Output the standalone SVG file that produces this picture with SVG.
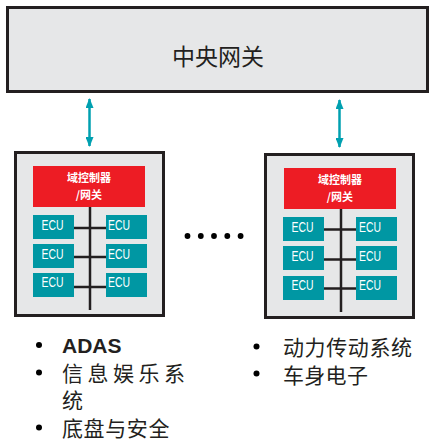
<svg xmlns="http://www.w3.org/2000/svg" width="436" height="448" viewBox="0 0 436 448">
<defs>
<style>
.frame{fill:#e6e7e8;stroke:#231f20;stroke-width:3}
.red{fill:#ed1c24}
.ecu{fill:#0097a3}
.bus{stroke:#231f20;stroke-width:2.5;fill:none}
.arr{stroke:#00a0b0;stroke-width:2.5;fill:none;marker-start:url(#ah);marker-end:url(#ah)}
.rt{font-family:"Noto Sans CJK SC","Liberation Sans",sans-serif;font-size:11px;font-weight:bold;fill:#fff;text-anchor:middle;dominant-baseline:central}
.et{font-family:"Liberation Sans",sans-serif;font-size:15px;fill:#fff}
.cj{font-family:"Liberation Sans","Noto Sans CJK SC",sans-serif;font-size:21px;fill:#231f20;dominant-baseline:central}
</style>
<marker id="ah" viewBox="0 0 10 8" refX="9" refY="4" markerWidth="10" markerHeight="8" markerUnits="userSpaceOnUse" orient="auto-start-reverse">
<path d="M0,0 L10,4 L0,8 Z" fill="#00a0b0"/>
</marker>
</defs>

<g id="central-gateway">
<rect class="frame" x="7.5" y="7.5" width="420" height="84"/>
<text x="218" y="55" font-family="Noto Sans CJK SC, sans-serif" font-size="23" fill="#231f20" text-anchor="middle" dominant-baseline="central">中央网关</text>
</g>

<g id="connectors">
<line class="arr" x1="89.5" y1="146" x2="89.5" y2="99"/>
<line class="arr" x1="339.5" y1="147" x2="339.5" y2="100"/>
</g>

<g id="domain-left">
<rect class="frame" x="15.5" y="152.5" width="148" height="163"/>
<rect class="red" x="33" y="166" width="112" height="41"/>
<text class="rt" x="89" y="177">域控制器</text>
<text class="rt" x="89" y="194">/网关</text>
<line class="bus" x1="90" y1="207" x2="90" y2="310"/>
<line class="bus" x1="74" y1="228" x2="106" y2="228"/>
<line class="bus" x1="74" y1="257" x2="106" y2="257"/>
<line class="bus" x1="74" y1="287" x2="106" y2="287"/>
<rect class="ecu" x="33" y="215" width="41" height="24"/>
<rect class="ecu" x="106" y="215" width="41" height="24"/>
<rect class="ecu" x="33" y="244" width="41" height="24"/>
<rect class="ecu" x="106" y="244" width="41" height="24"/>
<rect class="ecu" x="33" y="273" width="41" height="24"/>
<rect class="ecu" x="106" y="273" width="41" height="24"/>
<text class="et" x="41.5" y="229.5" textLength="22" lengthAdjust="spacingAndGlyphs">ECU</text>
<text class="et" x="108" y="229.5" textLength="22" lengthAdjust="spacingAndGlyphs">ECU</text>
<text class="et" x="41.5" y="258.5" textLength="22" lengthAdjust="spacingAndGlyphs">ECU</text>
<text class="et" x="108" y="258.5" textLength="22" lengthAdjust="spacingAndGlyphs">ECU</text>
<text class="et" x="41.5" y="286.5" textLength="22" lengthAdjust="spacingAndGlyphs">ECU</text>
<text class="et" x="108" y="286.5" textLength="22" lengthAdjust="spacingAndGlyphs">ECU</text>
</g>

<g id="domain-right">
<rect class="frame" x="265.5" y="154.5" width="148" height="163"/>
<rect class="red" x="284" y="168" width="112" height="41"/>
<text class="rt" x="340" y="179">域控制器</text>
<text class="rt" x="340" y="196">/网关</text>
<line class="bus" x1="341" y1="209" x2="341" y2="312"/>
<line class="bus" x1="324" y1="229.5" x2="357" y2="229.5"/>
<line class="bus" x1="324" y1="259.5" x2="357" y2="259.5"/>
<line class="bus" x1="324" y1="288.5" x2="357" y2="288.5"/>
<rect class="ecu" x="283" y="217" width="41" height="24"/>
<rect class="ecu" x="356" y="217" width="41" height="24"/>
<rect class="ecu" x="283" y="246" width="41" height="24"/>
<rect class="ecu" x="356" y="246" width="41" height="24"/>
<rect class="ecu" x="283" y="276" width="41" height="24"/>
<rect class="ecu" x="356" y="276" width="41" height="24"/>
<text class="et" x="291.5" y="231.5" textLength="22" lengthAdjust="spacingAndGlyphs">ECU</text>
<text class="et" x="359" y="231.5" textLength="22" lengthAdjust="spacingAndGlyphs">ECU</text>
<text class="et" x="291.5" y="260.5" textLength="22" lengthAdjust="spacingAndGlyphs">ECU</text>
<text class="et" x="359" y="260.5" textLength="22" lengthAdjust="spacingAndGlyphs">ECU</text>
<text class="et" x="291.5" y="289.5" textLength="22" lengthAdjust="spacingAndGlyphs">ECU</text>
<text class="et" x="359" y="289.5" textLength="22" lengthAdjust="spacingAndGlyphs">ECU</text>
</g>

<g id="ellipsis" fill="#000">
<circle cx="187.5" cy="236" r="2.9"/>
<circle cx="200.8" cy="236" r="2.9"/>
<circle cx="214" cy="236" r="2.9"/>
<circle cx="227.3" cy="236" r="2.9"/>
<circle cx="240.6" cy="236" r="2.9"/>
</g>

<g id="list-left">
<circle cx="39" cy="345" r="3" fill="#000"/>
<circle cx="39" cy="372.5" r="3" fill="#000"/>
<circle cx="39" cy="427.5" r="3" fill="#000"/>
<text x="62" y="353" font-family="Liberation Sans, Arial, sans-serif" font-size="21" font-weight="bold" fill="#231f20">ADAS</text>
<text class="cj" x="62" y="373" letter-spacing="4.5">信息娱乐系</text>
<text class="cj" x="62" y="400">统</text>
<text class="cj" x="62" y="428" letter-spacing="0.6">底盘与安全</text>
</g>

<g id="list-right">
<circle cx="256.5" cy="346.5" r="3" fill="#000"/>
<circle cx="256.5" cy="373.5" r="3" fill="#000"/>
<text class="cj" x="283" y="347" letter-spacing="0.6">动力传动系统</text>
<text class="cj" x="283" y="375" letter-spacing="0.3">车身电子</text>
</g>
</svg>
